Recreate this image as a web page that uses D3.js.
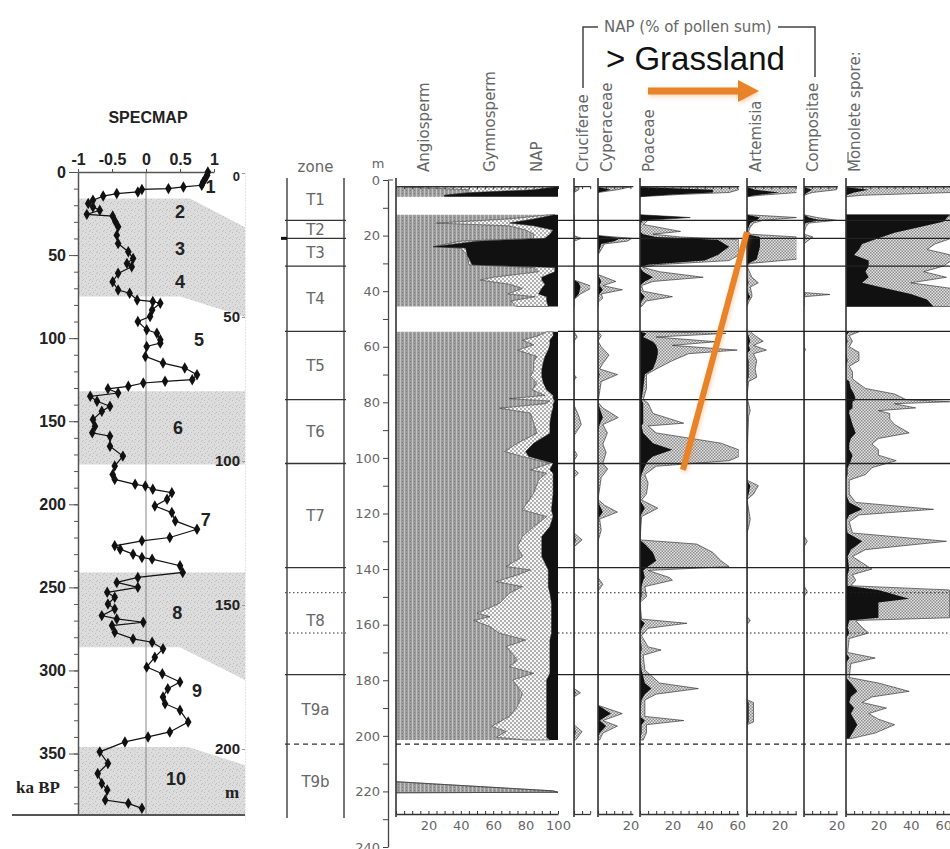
<!DOCTYPE html>
<html>
<head>
<meta charset="utf-8">
<script src="https://cdn.jsdelivr.net/npm/d3@7"></script>
<style>
body { margin: 0; background: #fff; }
svg { display: block; }
</style>
</head>
<body>
<div id="chart"></div>
<script>
// ---- SPECMAP stack (age ka BP, normalised d18O) ----
var ageBP = [0,2,4,6,8,9,10,10.5,12,13,14.5,17,19,21,23,25.5,26.5,30,33,38,43,48,52,55,57,61,66,71,73,77,78,79,83,87,90,95,97,101,
  103,105,111,115,118,122,125,126,127,129,130.5,133,135,138,141,144,149,153,157,159,165,171,177,182,185,188,189,191,193,197,201,
  205,210,215,220,222,225,227,230,232,233,237,241,244,247,250,253,256,260,263,267,269,271,273,277,281,283,287,292,298,302,307,
  311,316,320,324,331,337,340,343,349,356,362,368,372,378,380,383];
var specmap = [0.91,0.9,0.87,0.84,0.82,0.55,0.33,-0.06,-0.12,-0.43,-0.63,-0.78,-0.85,-0.78,-0.68,-0.87,-0.49,-0.45,-0.41,-0.43,-0.41,
  -0.26,-0.19,-0.28,-0.21,-0.41,-0.49,-0.41,-0.24,-0.13,0.1,0.21,0.09,0.06,-0.12,0.01,0.16,0.21,
  0.21,0.01,-0.01,0.25,0.57,0.75,0.68,0.28,-0.04,-0.26,-0.56,-0.41,-0.82,-0.72,-0.53,-0.65,-0.78,-0.75,-0.79,-0.53,-0.53,-0.34,
  -0.46,-0.49,-0.46,-0.16,-0.01,0.1,0.38,0.31,0.13,
  0.38,0.43,0.75,0.35,-0.06,-0.46,-0.38,-0.19,-0.06,0.09,0.5,0.54,-0.12,-0.43,-0.12,-0.57,-0.46,-0.56,-0.46,-0.65,-0.43,-0.04,
  -0.5,-0.46,-0.19,0.09,0.25,0.13,0.01,0.24,0.5,
  0.32,0.25,0.28,0.5,0.62,0.35,0.03,-0.31,-0.68,-0.56,-0.71,-0.65,-0.57,-0.6,-0.26,-0.06];

// marine isotope stages: name, value, age
var stageNames = ["1","2","3","4","5","6","7","8","9","10"];
var stageValue = [0.95,0.5,0.5,0.5,0.78,0.47,0.88,0.46,0.75,0.44];
var stageAge = [9,24,46,66,101,154,209,265,312,365];

// glacial bands: age at left, depth (m) at the right border
var bandAgeTop = [16,132,241,346];
var bandAgeBottom = [75,176,286,387];
var bandDepthTop = [18.8,76,139,205.6];
var bandDepthBottom = [50,101,176,223];
var bandKneeTop = [0.65,1.45,1.45,0.62];
var bandKneeBottom = [0.5,1.45,0.5,1.45];

// ---- pollen zones (depth m) ----
var zoneNames = ["T1","T2","T3","T4","T5","T6","T7","T8","T9a","T9b"];
var zoneBreaks = [0,14.5,21,31,54.5,79,102,139.5,178,203,230];
var zoneLines = [14.5,21,31,54.5,79,102,139.5,148.5,163,178,203];
var zoneLineType = ["solid","solid","solid","solid","solid","solid","solid","dotted","dotted","solid","dashed"];

// ---- pollen sum: [depth, Angiosperm, Gymnosperm, NAP] (%) ----
var pollenSum = [
  [2.5,5,93,2],[3.5,45,40,15],[4.5,45,2,53],[5.5,30,0,70],[6,30,0,70],null,
  [12.5,95,3,2],[14,70,15,15],[15.5,25,45,30],[16.5,70,15,15],[18,80,17,3],[19.5,85,10,5],[21,85,7,8],[22,40,10,50],
  [24,23,0,77],[24.5,40,3,57],[27,44,0,56],[30.5,45,2,53],[31.5,85,13,2],[33,88,10,2],[35,60,30,10],[36,52,38,10],
  [37.5,70,22,8],[39,78,12,10],[41,69,19,12],[42,86,7,7],[43.5,71,22,7],[45.5,74,20,6],null,
  [54.6,93,4,3],[56,88,9,3],[57.6,78,17,5],[59.3,85,10,5],[61.2,75,19,6],[63.5,87,5,8],[65.4,85,6,9],[68.3,85,5,10],
  [70.7,83,7,10],[73.1,87,4,9],[75.5,84,9,7],[77.5,92,5,3],[78.7,70,27,3],[79.5,95,3,2],[80.5,92,5,3],[82.1,64,33,3],
  [83.9,83,13,4],[87.5,85,10,5],[91.1,87,8,5],[94.7,75,10,15],[97.7,67,13,20],[99.5,78,4,18],[101.9,95,2,3],[104.3,83,12,5],
  [105.5,93,4,3],[107.9,88,9,3],[112.7,85,12,3],[118.7,78,18,4],[121.1,93,4,3],[124.7,85,10,5],[128.3,78,12,10],[131.9,75,15,10],
  [135.5,78,12,10],[139.1,68,25,7],[140.3,83,11,6],[142.1,75,19,6],[144.5,62,32,6],[146.3,78,16,6],[148.7,70,25,5],[152.3,64,32,4],
  [155.9,50,46,4],[157.1,58,38,4],[158.5,48,48,4],[160.7,58,38,4],[163.1,64,32,4],[165.5,80,15,5],[167.9,68,27,5],[172.7,75,20,5],
  [175.1,70,25,5],[177.5,85,10,5],[179.9,72,21,7],[184.7,78,15,7],[189.4,75,18,7],[193,70,23,7],[196.6,59,34,7],[198.4,68,25,7],
  [200.5,62,31,7],[201.5,80,15,5],null,
  [216.5,0,0,0],[219.8,97,0,0],[220.3,100,0,0],[220.5,0,0,0]
];

// ---- NAP taxa: [depth, %, exaggerated %] ----
var cruciferae = [
  [2.5,0,3],[3.5,1,3],[4.5,0,0],null,
  [12.5,0,0],[20,0,0],[21,0,4.5],[22,0,0],[36,0,0],[37,3,5],[38.5,4,12],[41,3,4],[43,0,0],[45.5,0,0],null,
  [54.5,0,0],[56.5,0,2],[58,0,0],[70,0,0],[71,0,1.5],[72,0,0],[81,0,0],[85,0,3],[88,0,4.5],[92,0,0],[97,0,0],[99,0,2],
  [101,0,0],[104,0,0],[105.5,0,2.7],[107,0,0],[127,0,0],[129.5,1,5],[132,0,0],[183,0,0],[184.5,1,4],[186,0,0],[196,0,0],
  [198.5,1,5],[201.5,0,1],null
];
var cyperaceae = [
  [2.5,0,20],[3.5,8,12],[4.5,0,0],null,
  [12.5,0,0],[20,0,0],[21,14,21],[22,10,18],[23,2,4],[25,1,2],[27,0,0],[34,0,0],[36.5,2,11],[38,1,3],[39.5,3,15],[41,1,2],
  [42.5,0,3],[44,0,0],[45.5,0,0],null,
  [54.5,0,0],[56,0,2],[58,0,0],[60,0,2],[63,0,6.8],[66,0,3],[68,0,1],[70,1,12],[72.5,0,2],[80,0,0],[82,1,3],[85.5,3,12.5],
  [88,1,3],[91,0,5.8],[95,0,3],[98,0,5],[102,0,3],[104,0,6],[107,0,2],[115,0,0],[117,1,4],[119.5,3,12],[122,0,1],[126,0,2],
  [130,0,0],[143,0,0],[145.5,0,3],[148,0,0],[189,0,0],[192,8,15],[194.5,1,3],[196.5,5,12],[199,1,3],[201.5,0,1],null
];
var poaceae = [
  [2.5,0,60],[3.5,45,61],[4.5,45,55],[5.2,20,25],[6,0,0],null,
  [12.5,0,0],[13.5,31,31],[14.5,2,5],[16,0,2],[18.5,0,25],[19.5,2,8],[20.5,10,25],[21.5,48,61],[24,55,61],[27,48,61],
  [29,40,55],[30.5,5,10],[31.5,0,2],[33,2,12],[35,8,39],[36.5,3,8],[38,0,1],[40,0,2],[42,3,20],[43.5,1,4],[45.5,0,1],null,
  [54.5,0,0],[55.2,4,53],[56.5,2,10],[58.2,8,47],[59.5,10,20],[61.2,11,60],[62.5,11,30],[65,10,20],[68,8,10],[70,3,4],
  [75,2,4],[79,1,2],[80.3,2,5],[84,2,8],[87.5,2,27],[88.5,1,5],[91,2,10],[94.7,8,50],[97.1,20,61],[99.5,8,61],[101,5,55],
  [103,3,10],[106,1,3],[109,0,5],[113,0,4],[115.1,0,1],[118.1,3,11],[121.1,0,1],[129.5,0,0],[131,3,35],[134,8,45],[137,10,50],
  [139.1,5,55],[140.5,2,5],[143,3,18],[144,2,20],[146.3,1,3],[149.9,1,4],[152,0,0],[158,0,1],[159.5,3,29],[161.3,1,5],[164,0,1],
  [168,1,5],[169.1,1,13],[171,0,2],[176.3,1,3],[181,3,12],[183,7,36],[185,3,10],[187.1,1,3],[193,0,3],[194.5,3,27],[196,1,4],
  [198.9,1,4],[201.5,0,2],null
];
var artemisia = [
  [2.5,0,31],[3.5,5,31],[4.5,20,31],[5.5,5,8],[6,0,0],null,
  [12.5,0,0],[13.5,8,31],[14.5,6,10],[15.5,2,4],[17,1,2],[18.5,0,1],[19.5,0,2],[20.5,8,31],[24,8,31],[28.5,6,31],[30,1,2],
  [31,0,0],[35,0,3],[37,1,7],[38.5,0,2],[41,1,3],[42,2,3],[44,0,1],[45.5,0,0],null,
  [54.5,0,2],[56,1,5],[58,2,10],[59.5,1,4],[61.2,2,12],[62.5,0,4],[65,1,6],[68,1,5],[71,1,6],[72.5,0,1],[78,0,0],[83,0,2],
  [85,0,1],[100,0,0],[108,0,0],[110,2,7],[113,1,4],[115,0,0],[122,0,2],[125,0,1],[127,0,0],[157,0,0],[158.5,0,2],[160,0,0],
  [176,0,0],[177.5,0,1],[179,0,0],[187,0,0],[188,1,4],[195,1,4],[196,0,0],[201.5,0,0],null
];
var compositae = [
  [2.5,0,20],[3.5,5,20],[4.5,2,5],[5.5,0,0],null,
  [12.5,0,0],[13.5,3,8],[14.5,10,20],[15.5,1,3],[17,0,1],[19.5,0,0],[20.5,1,5.5],[22,0,2],[23,0,0],[40.5,0,0],[41.2,1,16],
  [42,0,0],[45.5,0,0],null,
  [54.5,0,0],[60,0,0],[61,0,1],[62,0,0],[128,0,0],[130,0,2],[132,0,0],[146,0,0],[148,0,2],[150,0,0],[201.5,0,0],null
];
var monolete = [
  [2.5,0,65],[3.5,14,65],[4.5,5,65],[5.5,0,10],[6,0,0],null,
  [12.5,64,64],[15,60,65],[17,45,65],[19,30,65],[21,20,65],[23,10,55],[25,8,50],[27,5,65],[29,14,65],[31,14,60],[33,12,48],
  [35,14,62],[37,10,40],[39,25,65],[41,40,65],[43,50,65],[45.5,54,65],null,
  [54.6,2,8],[56,0,2],[58,1,4],[60,0,2],[62,0,8],[65,1,8],[67,0,2],[69,0,4],[71.5,0,4],[72.5,2,6],[75,3,12],[77,5,30],
  [79,6,37],[79.8,4,64],[80.5,4,30],[82,4,43],[83,2,20],[84,2,27],[86,3,27],[88,4,30],[91,6,39],[93,3,20],[95,2,16],
  [97,2,20],[99,4,20],[101,3,31],[103.5,1,16],[106,1,12],[108,0,2],[113,0,2],[116,2,6],[118.5,10,54],[120.5,2,8],[123,0,2],
  [127,1,4],[130,10,62],[133,3,12],[135.5,1,4],[140,2,16],[142,1,4],[144,1,6],[146,1,3],[147.5,20,64],[150.7,39,64],
  [152,20,64],[155,20,64],[157.5,20,64],[158.5,2,6],[161,1,10],[163,2,14],[165,0,2],[170,0,1],[172,2,18],[174,0,3],
  [179,0,2],[181,3,20],[184,7,39],[186,3,16],[188,2,10],[190,5,25],[192,3,14],[194,5,20],[196,7,30],[199,4,18],[201,2,3],null
];

// trend annotation on the Poaceae panel: [depth, Poaceae %]
var grassTrend = [[18.7,66],[104.3,26.5]];
var grassDashed = [[111.5,23.5],[214,23.5]];

var svg = d3.select("#chart").append("svg")
    .attr("width", 950)
    .attr("height", 849)
    .style("background", "#fff");

var defs = svg.append("defs");

var pAngio = defs.append("pattern").attr("id", "angio")
    .attr("patternUnits", "userSpaceOnUse").attr("width", 4).attr("height", 3);
pAngio.append("rect").attr("width", 4).attr("height", 3).attr("fill", "#9c9c9c");
pAngio.append("rect").attr("width", 1).attr("height", 3).attr("fill", "#c2c2c2");
pAngio.append("rect").attr("x", 2).attr("y", 1).attr("width", 1).attr("height", 1).attr("fill", "#7a7a7a");

var pDot = defs.append("pattern").attr("id", "dots")
    .attr("patternUnits", "userSpaceOnUse").attr("width", 4).attr("height", 4);
pDot.append("rect").attr("width", 4).attr("height", 4).attr("fill", "#f7f7f7");
pDot.append("circle").attr("cx", 1).attr("cy", 1).attr("r", 0.7).attr("fill", "#333");
pDot.append("circle").attr("cx", 3).attr("cy", 3).attr("r", 0.7).attr("fill", "#333");

var pCheck = defs.append("pattern").attr("id", "check")
    .attr("patternUnits", "userSpaceOnUse").attr("width", 3).attr("height", 3);
pCheck.append("rect").attr("width", 3).attr("height", 3).attr("fill", "#e4e4e4");
pCheck.append("rect").attr("width", 1.5).attr("height", 1.5).attr("fill", "#8c8c8c");
pCheck.append("rect").attr("x", 1.5).attr("y", 1.5).attr("width", 1.5).attr("height", 1.5).attr("fill", "#8c8c8c");

// speckled grey for the glacial bands
var pSpeck = defs.append("pattern").attr("id", "speck")
    .attr("patternUnits", "userSpaceOnUse").attr("width", 7).attr("height", 7);
pSpeck.append("rect").attr("width", 7).attr("height", 7).attr("fill", "#dcdcdc");
[[1, 1], [4, 3], [2, 5], [6, 6], [5, 0]].forEach(function(c) {
    pSpeck.append("rect").attr("x", c[0]).attr("y", c[1]).attr("width", 1).attr("height", 1).attr("fill", "#bdbdbd");
});

var shadow = defs.append("filter").attr("id", "glow")
    .attr("x", "-20%").attr("y", "-20%").attr("width", "140%").attr("height", "140%");
shadow.append("feDropShadow").attr("dx", 1).attr("dy", 2).attr("stdDeviation", 2)
    .attr("flood-color", "#e8832a").attr("flood-opacity", 0.35);

var orange = "#e8832a";
var greyText = "#555";

// ================= SPECMAP =================
var ageY = d3.scaleLinear().domain([0, 387]).range([172, 815]);
var valX = d3.scaleLinear().domain([-1, 1]).range([78, 214]);
var mY = d3.scaleLinear().domain([0, 225]).range([173, 821]);
var rightEdge = 245;

var sp = svg.append("g").attr("font-family", "Liberation Sans, Arial, sans-serif").attr("font-weight", "bold");

bandAgeTop.forEach(function(a, i) {
    var pts = [
        [valX(-1), ageY(a)],
        [valX(bandKneeTop[i]), ageY(a)],
        [rightEdge, mY(bandDepthTop[i])],
        [rightEdge, mY(bandDepthBottom[i])],
        [valX(bandKneeBottom[i]), ageY(bandAgeBottom[i])],
        [valX(-1), ageY(bandAgeBottom[i])]
    ];
    sp.append("path").attr("d", d3.line()(pts) + "Z").attr("fill", "url(#speck)");
});

sp.append("line").attr("x1", valX(0)).attr("x2", valX(0))
    .attr("y1", ageY(0)).attr("y2", ageY(387))
    .attr("stroke", "#888").attr("stroke-width", 1);

// right-hand depth scale
var mAxis = sp.append("g").attr("transform", "translate(" + rightEdge + ",0)")
    .call(d3.axisLeft(mY).tickValues([0, 50, 100, 150, 200]).tickSize(3).tickPadding(2).tickSizeOuter(0));
mAxis.select(".domain").attr("stroke", "#ccc").attr("stroke-dasharray", "1,2");
mAxis.selectAll(".tick line").attr("stroke", "#999");
mAxis.selectAll("text").attr("font-size", 15).attr("font-family", "Liberation Sans, Arial, sans-serif")
    .attr("font-weight", "bold").attr("fill", "#222");
mAxis.selectAll(".tick").filter(function(d) { return d === 0; }).select("text")
    .attr("dy", "0.6em").attr("font-size", 13);
sp.append("text").attr("x", 232).attr("y", mY(215)).attr("dy", "0.35em")
    .attr("text-anchor", "middle").attr("font-family", "Liberation Serif, serif")
    .attr("font-size", 17).attr("fill", "#222").text("m");

// left axis: minor and major ticks
var minorAxis = sp.append("g").attr("transform", "translate(" + valX(-1) + ",0)")
    .call(d3.axisLeft(ageY).tickValues(d3.range(0, 387, 10)).tickSize(4).tickFormat("").tickSizeOuter(0));
minorAxis.select(".domain").attr("stroke", "#555").attr("stroke-width", 1.5);
minorAxis.selectAll(".tick line").attr("stroke", "#555");
var majorAxis = sp.append("g").attr("transform", "translate(" + valX(-1) + ",0)")
    .call(d3.axisLeft(ageY).tickValues(d3.range(0, 351, 50)).tickSize(9).tickPadding(3).tickSizeOuter(0));
majorAxis.select(".domain").remove();
majorAxis.selectAll(".tick line").attr("stroke", "#555");
majorAxis.selectAll("text").attr("font-size", 16).attr("font-family", "Liberation Sans, Arial, sans-serif")
    .attr("font-weight", "bold").attr("fill", "#222");

// top axis
var topAxis = sp.append("g").attr("transform", "translate(0," + ageY(0) + ")")
    .call(d3.axisTop(valX).tickValues([-1, -0.5, 0, 0.5, 1]).tickSize(3).tickPadding(4).tickSizeOuter(0)
        .tickFormat(function(d) { return String(d); }));
topAxis.select(".domain").attr("stroke", "#555").attr("stroke-width", 1.5);
topAxis.selectAll(".tick line").attr("stroke", "#555");
topAxis.selectAll("text").attr("font-size", 16).attr("font-family", "Liberation Sans, Arial, sans-serif")
    .attr("font-weight", "bold").attr("fill", "#222");

sp.append("text").attr("x", 148).attr("y", 117).attr("dy", "0.35em").attr("text-anchor", "middle")
    .attr("font-size", 16).attr("fill", "#222").text("SPECMAP");

sp.append("line").attr("x1", 12).attr("x2", rightEdge).attr("y1", 815).attr("y2", 815)
    .attr("stroke", "#555").attr("stroke-width", 2);

sp.append("text").attr("x", 38).attr("y", ageY(370)).attr("dy", "0.35em").attr("text-anchor", "middle")
    .attr("font-family", "Liberation Serif, serif").attr("font-size", 17).attr("fill", "#222").text("ka BP");

var curve = ageBP.map(function(a, i) { return [valX(specmap[i]), ageY(a)]; });
sp.append("path").attr("d", d3.line()(curve)).attr("fill", "none")
    .attr("stroke", "#111").attr("stroke-width", 1.2);
sp.selectAll(".mk").data(curve).enter().append("path")
    .attr("class", "mk")
    .attr("transform", function(d) { return "translate(" + d[0] + "," + d[1] + ")"; })
    .attr("d", d3.symbol().type(d3.symbolDiamond).size(38))
    .attr("fill", "#111");

sp.selectAll(".stage").data(stageNames).enter().append("text")
    .attr("class", "stage")
    .attr("x", function(d, i) { return valX(stageValue[i]); })
    .attr("y", function(d, i) { return ageY(stageAge[i]); })
    .attr("dy", "0.35em").attr("text-anchor", "middle")
    .attr("font-size", 18).attr("fill", "#222")
    .text(function(d) { return d; });

// ================= zones + depth axis =================
var depthY = d3.scaleLinear().domain([0, 240]).range([180, 847]);
var zoneLeft = 287, zoneRight = 344;
var zg = svg.append("g").attr("font-family", "DejaVu Sans, sans-serif").attr("fill", greyText);

zg.append("text").attr("x", (zoneLeft + zoneRight) / 2).attr("y", 172).attr("text-anchor", "middle")
    .attr("font-size", 15).attr("fill", "#666").text("zone");
[zoneLeft, zoneRight].forEach(function(x) {
    zg.append("line").attr("x1", x).attr("x2", x).attr("y1", 178).attr("y2", 818)
        .attr("stroke", "#555").attr("stroke-width", 1.6);
});
zoneLines.forEach(function(d, i) {
    var l = zg.append("line").attr("x1", zoneLeft - 2).attr("x2", zoneRight + 2)
        .attr("y1", depthY(d)).attr("y2", depthY(d))
        .attr("stroke", "#333").attr("stroke-width", 1.3);
    if (zoneLineType[i] == "dotted") l.attr("stroke-dasharray", "1.5,2.5").attr("stroke-width", 1);
    if (zoneLineType[i] == "dashed") l.attr("stroke-dasharray", "5,4");
});
zg.append("line").attr("x1", zoneLeft - 6).attr("x2", zoneLeft)
    .attr("y1", depthY(zoneLines[1])).attr("y2", depthY(zoneLines[1]))
    .attr("stroke", "#111").attr("stroke-width", 3);
zg.selectAll(".zn").data(zoneNames).enter().append("text")
    .attr("class", "zn")
    .attr("x", (zoneLeft + zoneRight) / 2)
    .attr("y", function(d, i) { return depthY((zoneBreaks[i] + zoneBreaks[i + 1]) / 2); })
    .attr("dy", "0.35em").attr("text-anchor", "middle").attr("font-size", 15).attr("fill", "#666")
    .text(function(d) { return d; });

var dAxis = svg.append("g").attr("transform", "translate(388,0)")
    .call(d3.axisLeft(depthY).tickValues(d3.range(0, 241, 10)).tickSize(5).tickPadding(3).tickSizeOuter(0)
        .tickFormat(function(d) { return d % 20 === 0 ? d : ""; }));
dAxis.select(".domain").attr("stroke", "#444").attr("stroke-width", 1.3);
dAxis.selectAll(".tick line").attr("stroke", "#444");
dAxis.selectAll("text").attr("font-size", 13).attr("font-family", "DejaVu Sans, sans-serif").attr("fill", "#666");
svg.append("line").attr("x1", 388).attr("x2", 393).attr("y1", depthY(0)).attr("y2", depthY(0)).attr("stroke", "#444");
svg.append("text").attr("x", 378).attr("y", 168).attr("text-anchor", "middle")
    .attr("font-family", "DejaVu Sans, sans-serif").attr("font-size", 13).attr("fill", "#666").text("m");

// ================= pollen diagram =================
var pxPerPct = 1.62;
var topY = 178, axisY = 814;
var panels = [
    {name: "sum", data: pollenSum, left: 396, max: 100, labels: [20, 40, 60, 80, 100]},
    {name: "Cruciferae", data: cruciferae, left: 574, max: 10, labels: []},
    {name: "Cyperaceae", data: cyperaceae, left: 598, max: 21.5, labels: [20]},
    {name: "Poaceae", data: poaceae, left: 640, max: 61, labels: [20, 40, 60]},
    {name: "Artemisia", data: artemisia, left: 747, max: 30.5, labels: [20]},
    {name: "Compositae", data: compositae, left: 804, max: 20.5, labels: [20]},
    {name: "Monolete spore:", data: monolete, left: 846, max: 65, labels: [20, 40, 60]}
];
panels.forEach(function(p) {
    p.x = d3.scaleLinear().domain([0, p.max]).range([p.left, p.left + p.max * pxPerPct]);
});

var pg = svg.append("g");

panels.forEach(function(p, pi) {
    var g = pg.append("g");
    var clipId = "clip" + pi;
    defs.append("clipPath").attr("id", clipId).append("rect")
        .attr("x", p.left).attr("y", topY)
        .attr("width", Math.min(p.max * pxPerPct, 950 - p.left)).attr("height", axisY - topY);
    var fills = g.append("g").attr("clip-path", "url(#" + clipId + ")");
    var ok = function(d) { return d !== null; };
    var x = p.x;

    if (pi === 0) {
        fills.append("path").datum(p.data)
            .attr("d", d3.area().defined(ok).y(function(d) { return depthY(d[0]); })
                .x0(x(0)).x1(function(d) { return x(d[1]); }))
            .attr("fill", "url(#angio)");
        fills.append("path").datum(p.data)
            .attr("d", d3.area().defined(ok).y(function(d) { return depthY(d[0]); })
                .x0(function(d) { return x(d[1]); }).x1(function(d) { return x(d[1] + d[2]); }))
            .attr("fill", "url(#dots)").attr("stroke", "#333").attr("stroke-width", 0.6);
        fills.append("path").datum(p.data)
            .attr("d", d3.area().defined(ok).y(function(d) { return depthY(d[0]); })
                .x0(function(d) { return x(d[1] + d[2]); }).x1(function(d) { return x(d[1] + d[2] + d[3]); }))
            .attr("fill", "#111");
    } else {
        fills.append("path").datum(p.data)
            .attr("d", d3.area().defined(ok).y(function(d) { return depthY(d[0]); })
                .x0(x(0)).x1(function(d) { return x(d[2]); }))
            .attr("fill", "url(#check)").attr("stroke", "#222").attr("stroke-width", 0.6);
        fills.append("path").datum(p.data)
            .attr("d", d3.area().defined(ok).y(function(d) { return depthY(d[0]); })
                .x0(x(0)).x1(function(d) { return x(d[1]); }))
            .attr("fill", "#111");
    }

    // top strip axis
    var topTicks = g.append("g").attr("transform", "translate(0," + depthY(2.2) + ")")
        .call(d3.axisBottom(x).tickValues(d3.range(0, p.max + 0.01, 5)).tickSize(3).tickFormat("").tickSizeOuter(0));
    topTicks.select(".domain").attr("stroke", "#333").attr("stroke-width", 1.2);
    topTicks.selectAll(".tick line").attr("stroke", "#333");

    // bottom axis
    var bAxis = g.append("g").attr("transform", "translate(0," + axisY + ")")
        .call(d3.axisBottom(x).tickValues(d3.range(0, p.max + 0.01, 5)).tickSize(-3).tickPadding(7).tickSizeOuter(0)
            .tickFormat(function(d) { return p.labels.indexOf(d) >= 0 ? d : ""; }));
    bAxis.select(".domain").attr("stroke", "#333").attr("stroke-width", 1.3);
    bAxis.selectAll(".tick line").attr("stroke", "#333");
    bAxis.selectAll("text").attr("font-size", 13).attr("font-family", "DejaVu Sans, sans-serif").attr("fill", "#666");

    g.append("line").attr("x1", p.left).attr("x2", p.left).attr("y1", topY).attr("y2", axisY + 3)
        .attr("stroke", "#333").attr("stroke-width", 1.6);
});

// zone boundaries across the taxa
zoneLines.forEach(function(d, i) {
    var x1 = zoneLineType[i] == "dashed" ? panels[0].left : panels[0].x(100);
    var l = pg.append("line").attr("x1", x1).attr("x2", 950)
        .attr("y1", depthY(d)).attr("y2", depthY(d))
        .attr("stroke", "#222").attr("stroke-width", 1.3);
    if (zoneLineType[i] == "dotted") l.attr("stroke-dasharray", "1.5,2.5").attr("stroke-width", 1.1);
    if (zoneLineType[i] == "dashed") l.attr("stroke-dasharray", "5,4");
});

// ---- column headers ----
var hdr = svg.append("g").attr("font-family", "DejaVu Sans, sans-serif").attr("font-size", 15).attr("fill", "#666");
var headerNames = ["Angiosperm", "Gymnosperm", "NAP", "Cruciferae", "Cyperaceae", "Poaceae", "Artemisia", "Compositae", "Monolete spore:"];
var headerPct = [17, 58, 87, 0, 0, 0, 0, 0, 0];
var headerPanel = [0, 0, 0, 1, 2, 3, 4, 5, 6];
hdr.selectAll(".hd").data(headerNames).enter().append("text")
    .attr("class", "hd")
    .attr("transform", function(d, i) {
        var p = panels[headerPanel[i]];
        var xx = headerPanel[i] === 0 ? p.x(headerPct[i]) : p.left + 9;
        return "translate(" + xx + ",172) rotate(-90)";
    })
    .attr("dy", "0.35em")
    .text(function(d) { return d; });
hdr.append("line").attr("x1", 848).attr("x2", 848).attr("y1", 152).attr("y2", 163)
    .attr("stroke", "#666").attr("stroke-width", 1.2);

// NAP bracket
hdr.append("path").attr("d", "M583,88V27H598").attr("fill", "none").attr("stroke", "#444").attr("stroke-width", 1.5);
hdr.append("path").attr("d", "M778,27H815V77").attr("fill", "none").attr("stroke", "#444").attr("stroke-width", 1.5);
hdr.append("text").attr("x", 604).attr("y", 27).attr("dy", "0.35em").attr("fill", "#666")
    .text("NAP (% of pollen sum)");

svg.append("text").attr("x", 606).attr("y", 58).attr("dy", "0.35em")
    .attr("font-family", "Liberation Sans, Arial, sans-serif").attr("font-size", 33).attr("fill", "#111")
    .text("> Grassland");

// orange arrow
var arrow = svg.append("g").attr("filter", "url(#glow)");
arrow.append("line").attr("x1", 648).attr("x2", 740).attr("y1", 91).attr("y2", 91)
    .attr("stroke", orange).attr("stroke-width", 7);
arrow.append("path").attr("d", "M738,80L759,91L738,102Z").attr("fill", orange);

// trend line across Poaceae
var px = panels[3].x;
var trend = d3.line().x(function(d) { return px(d[1]); }).y(function(d) { return depthY(d[0]); });
svg.append("path").attr("d", trend(grassTrend)).attr("fill", "none")
    .attr("stroke", orange).attr("stroke-width", 6).attr("filter", "url(#glow)");
svg.append("path").attr("d", trend(grassDashed)).attr("fill", "none")
    .attr("stroke", orange).attr("stroke-width", 7).attr("stroke-dasharray", "24,19")
    .attr("filter", "url(#glow)");
</script>
</body>
</html>
